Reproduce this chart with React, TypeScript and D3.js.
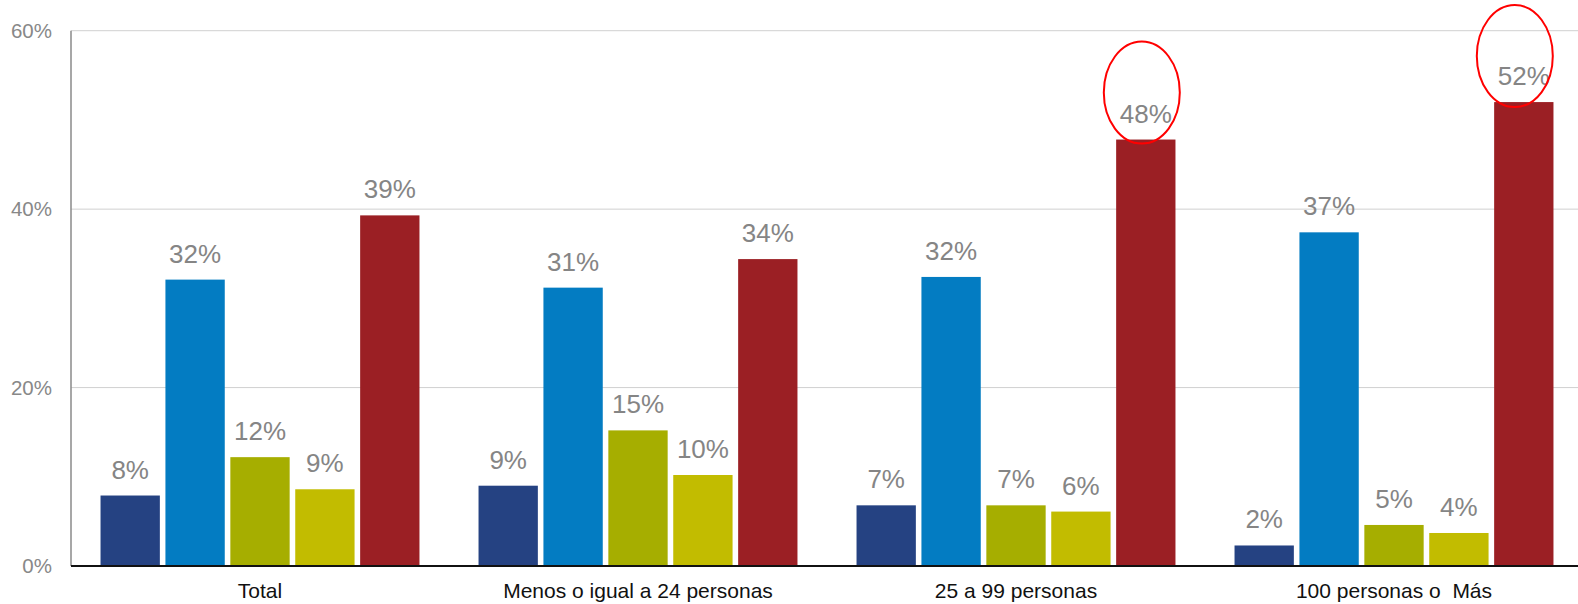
import React from "react";
import * as d3 from "d3";

const categories = ["Total", "Menos o igual a 24 personas", "25 a 99 personas", "100 personas o  Más"];
const seriesNames = ["s1", "s2", "s3", "s4", "s5"];
const seriesColors = ["#254282", "#037cc2", "#a6ae00", "#c2bc00", "#9b1f24"];
// values per category, one per series (percent)
const valTotal = [7.9, 32.1, 12.2, 8.6, 39.3];
const valMenos24 = [9.0, 31.2, 15.2, 10.2, 34.4];
const val25a99 = [6.8, 32.4, 6.8, 6.1, 47.8];
const val100mas = [2.3, 37.4, 4.6, 3.7, 52.0];
const values = [valTotal, valMenos24, val25a99, val100mas];
const yTicks = [0, 20, 40, 60];
// highlighted labels circled in red: [category index, series index, dx, dy]
const highlights = [
  [2, 4, -4, -47],
  [3, 4, -9, -46],
];

const W = 1578;
const H = 604;
const left = 71;
const right = 1583;
const top = 30.7;
const bottom = 566;

export default function App() {
  const x0 = d3.scaleBand<string>().domain(categories).range([left, right]).padding(0);
  const x1 = d3
    .scaleBand<string>()
    .domain(seriesNames)
    .range([0, x0.bandwidth()])
    .paddingInner(0.086)
    .paddingOuter(0.455);
  const y = d3.scaleLinear().domain([0, 60]).range([bottom, top]);
  const fmt = (v: number) => `${Math.round(v)}%`;
  const font = "'Liberation Sans', Arial, sans-serif";

  return (
    <svg
      width={W}
      height={H}
      style={{ position: "absolute", left: 0, top: 0, background: "#fff" }}
      fontFamily={font}
    >
      {yTicks.map((t) => (
        <g key={t}>
          {t > 0 && (
            <line x1={left} x2={W} y1={y(t)} y2={y(t)} stroke="#d0d0d0" strokeWidth={1} />
          )}
          <text x={52} y={y(t) + 7} textAnchor="end" fontSize={20.5} fill="#888888">
            {`${t}%`}
          </text>
        </g>
      ))}
      <line x1={left} x2={left} y1={top} y2={bottom} stroke="#8a8a8a" strokeWidth={1.5} />
      {categories.map((c, ci) => (
        <g key={c} transform={`translate(${x0(c)},0)`}>
          {seriesNames.map((s, si) => {
            const v = values[ci][si];
            const bx = x1(s)!;
            return (
              <g key={s}>
                <rect
                  x={bx}
                  y={y(v)}
                  width={x1.bandwidth()}
                  height={bottom - y(v)}
                  fill={seriesColors[si]}
                />
                <text
                  x={bx + x1.bandwidth() / 2}
                  y={y(v) - 17}
                  textAnchor="middle"
                  fontSize={26}
                  fill="#858585"
                >
                  {fmt(v)}
                </text>
              </g>
            );
          })}
          <text
            x={x0.bandwidth() / 2}
            y={598}
            textAnchor="middle"
            fontSize={21}
            fill="#111"
            style={{ whiteSpace: "pre" }}
          >
            {c}
          </text>
        </g>
      ))}
      <line x1={left} x2={W} y1={bottom} y2={bottom} stroke="#111" strokeWidth={2} />
      {highlights.map(([ci, si, dx, dy], i) => {
        const cx = x0(categories[ci])! + x1(seriesNames[si])! + x1.bandwidth() / 2 + dx;
        const cy = y(values[ci][si]) + dy;
        return (
          <ellipse key={i} cx={cx} cy={cy} rx={38} ry={51} fill="none" stroke="#ff0000" strokeWidth={2} />
        );
      })}
    </svg>
  );
}
